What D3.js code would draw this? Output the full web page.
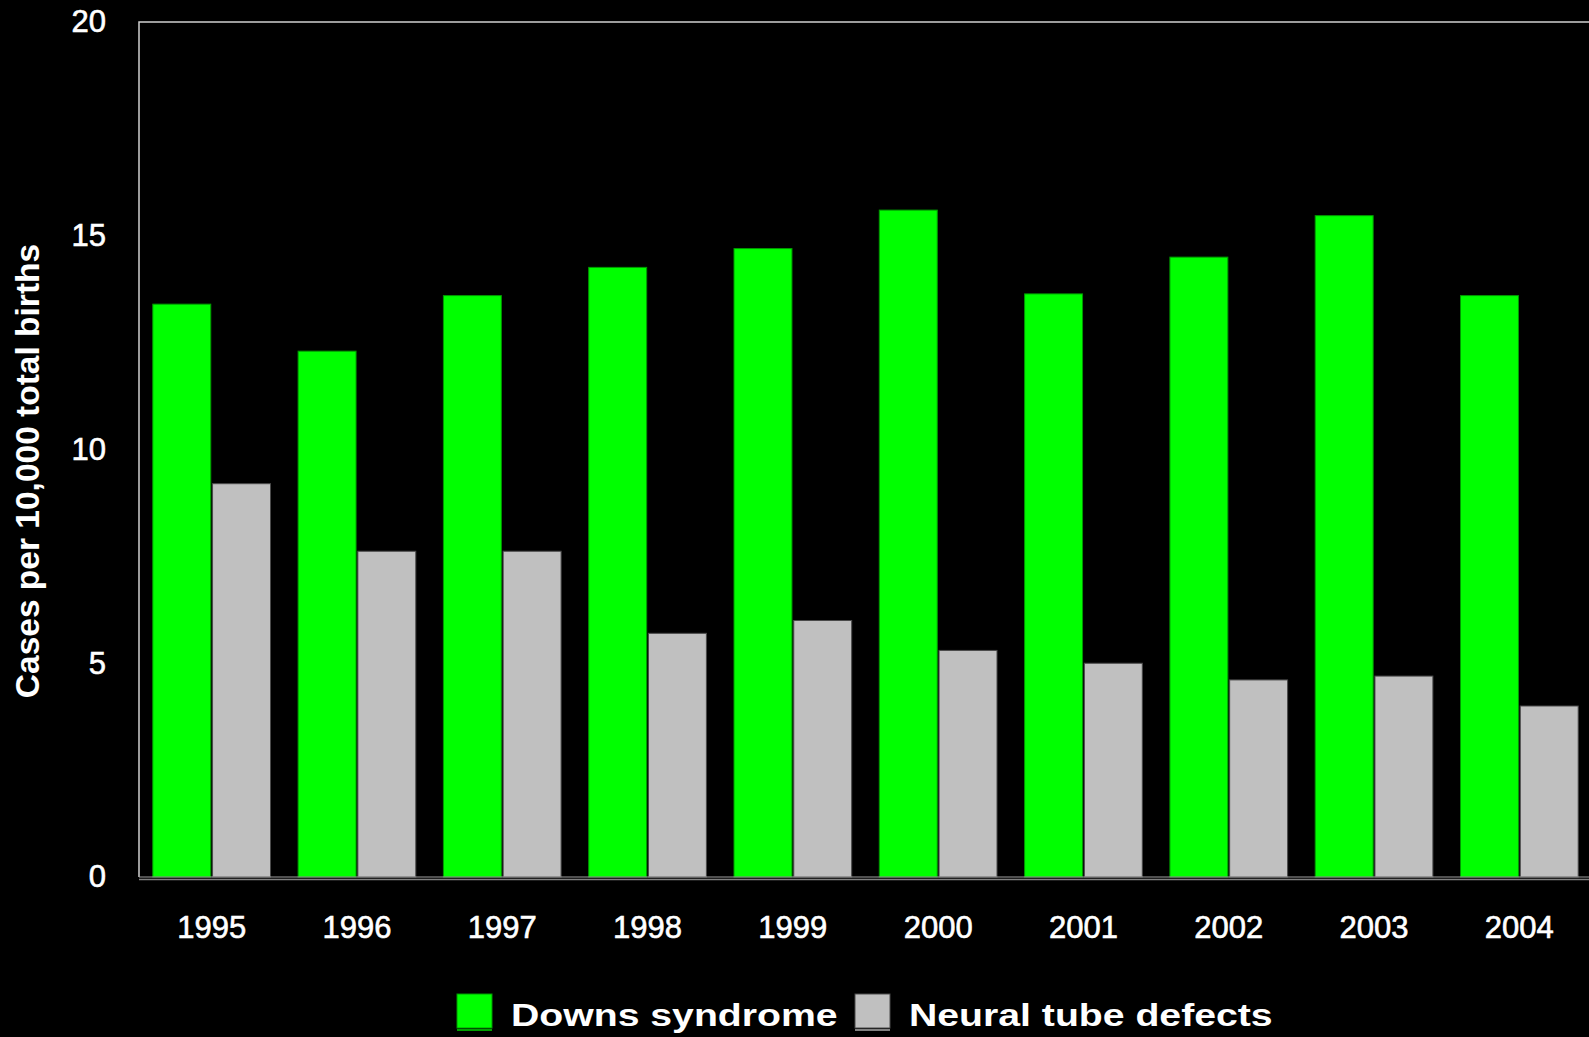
<!DOCTYPE html>
<html>
<head>
<meta charset="utf-8">
<script src="https://cdn.jsdelivr.net/npm/d3@7"></script>
<style>
  html, body { margin: 0; padding: 0; background: #000; overflow: hidden; }
  text { font-family: "Liberation Sans", Arial, sans-serif; fill: #fff; }
</style>
</head>
<body>
<div id="chart-area"></div>
<script>
// data
var years = ["1995", "1996", "1997", "1998", "1999", "2000", "2001", "2002", "2003", "2004"];
var downs = [13.4, 12.3, 13.6, 14.26, 14.7, 15.6, 13.64, 14.5, 15.47, 13.6];
var neural = [9.2, 7.62, 7.62, 5.7, 6.0, 5.3, 5.0, 4.61, 4.7, 4.0];
var seriesNames = ["Downs syndrome", "Neural tube defects"];
var seriesColors = ["#00ff00", "#c0c0c0"];
var seriesStrokes = ["#009a00", "#4a4a4a"];
var yTicks = [0, 5, 10, 15, 20];

var margin = { left: 139, right: 0, top: 22, bottom: 160 };
var width = 1453,
    height = 855;

var svg = d3.select("#chart-area")
    .append("svg")
        .attr("width", 1589)
        .attr("height", 1037)
        .style("display", "block")
        .style("background", "#000");

var g = svg.append("g")
    .attr("transform", "translate(" + margin.left + ", " + margin.top + ")");

// Scales
var x0 = d3.scaleBand()
    .domain(years)
    .range([0, width])
    .paddingInner(0.19)
    .paddingOuter(0.095);

var x1 = d3.scaleBand()
    .domain([0, 1])
    .range([0, x0.bandwidth()])
    .paddingInner(0.03);

var y = d3.scaleLinear()
    .domain([0, 20])
    .range([height, 0]);

// Frame (top + left)
g.append("path")
    .attr("d", "M" + width + "," + y(20) + "H0V" + height)
    .attr("fill", "none")
    .attr("stroke", "#d0d0d0")
    .attr("stroke-width", 1.5);

// Bars
var rows = years.map(function(d, i) { return { year: d, vals: [downs[i], neural[i]] }; });

var groups = g.selectAll("g.year")
    .data(rows)
    .enter()
    .append("g")
        .attr("class", "year")
        .attr("transform", function(d) { return "translate(" + x0(d.year) + ",0)"; });

groups.selectAll("rect")
    .data(function(d) { return d.vals.map(function(v, k) { return { k: k, v: v }; }); })
    .enter()
    .append("rect")
        .attr("x", function(d) { return x1(d.k); })
        .attr("y", function(d) { return y(d.v); })
        .attr("width", x1.bandwidth())
        .attr("height", function(d) { return height - y(d.v); })
        .attr("fill", function(d) { return seriesColors[d.k]; })
        .attr("stroke", function(d) { return seriesStrokes[d.k]; })
        .attr("stroke-width", 1);

// baseline + bottom frame line
g.append("line")
    .attr("x1", 0).attr("x2", width)
    .attr("y1", height).attr("y2", height)
    .attr("stroke", "#a0a0a0")
    .attr("stroke-width", 1);
g.append("line")
    .attr("x1", 0).attr("x2", width)
    .attr("y1", height + 2.5).attr("y2", height + 2.5)
    .attr("stroke", "#808080")
    .attr("stroke-width", 1.5);

// Y Axis
var yAxisCall = d3.axisLeft(y)
    .tickValues(yTicks)
    .tickSize(0)
    .tickPadding(33)
    .tickFormat(function(d) { return d; });
var yAxis = g.append("g")
    .attr("class", "y axis")
    .call(yAxisCall);
yAxis.select(".domain").remove();
yAxis.selectAll("text")
    .attr("font-size", "31px")
    .attr("font-family", "Liberation Sans, Arial, sans-serif")
    .attr("fill", "#fff")
    .attr("stroke", "#fff")
    .attr("stroke-width", 0.6);

// X Axis
var xAxisCall = d3.axisBottom(x0)
    .tickSize(0)
    .tickPadding(39);
var xAxis = g.append("g")
    .attr("class", "x axis")
    .attr("transform", "translate(0," + height + ")")
    .call(xAxisCall);
xAxis.select(".domain").remove();
xAxis.selectAll("text")
    .attr("font-size", "31px")
    .attr("font-family", "Liberation Sans, Arial, sans-serif")
    .attr("fill", "#fff")
    .attr("stroke", "#fff")
    .attr("stroke-width", 0.6);

// Y Label
svg.append("text")
    .attr("transform", "translate(39, 471) rotate(-90)")
    .attr("text-anchor", "middle")
    .attr("font-size", "33.5px")
    .attr("font-weight", "bold")
    .text("Cases per 10,000 total births");

// Legend
var legendX = [457, 855];
var legend = svg.selectAll("g.legend")
    .data(seriesNames)
    .enter()
    .append("g")
        .attr("class", "legend")
        .attr("transform", function(d, i) { return "translate(" + legendX[i] + ", 994)"; });

legend.append("rect")
    .attr("width", 35)
    .attr("height", 34)
    .attr("fill", function(d, i) { return seriesColors[i]; })
    .attr("stroke", function(d, i) { return seriesStrokes[i]; })
    .attr("stroke-width", 1);

legend.append("line")
    .attr("x1", 0).attr("x2", 35)
    .attr("y1", 36).attr("y2", 36)
    .attr("stroke", function(d, i) { return i == 0 ? "#00a000" : "#808080"; })
    .attr("stroke-width", 2);

legend.append("text")
    .attr("transform", "translate(54, 32) scale(1.225, 1)")
    .attr("font-size", "32px")
    .attr("font-weight", "bold")
    .text(function(d) { return d; });
</script>
</body>
</html>
